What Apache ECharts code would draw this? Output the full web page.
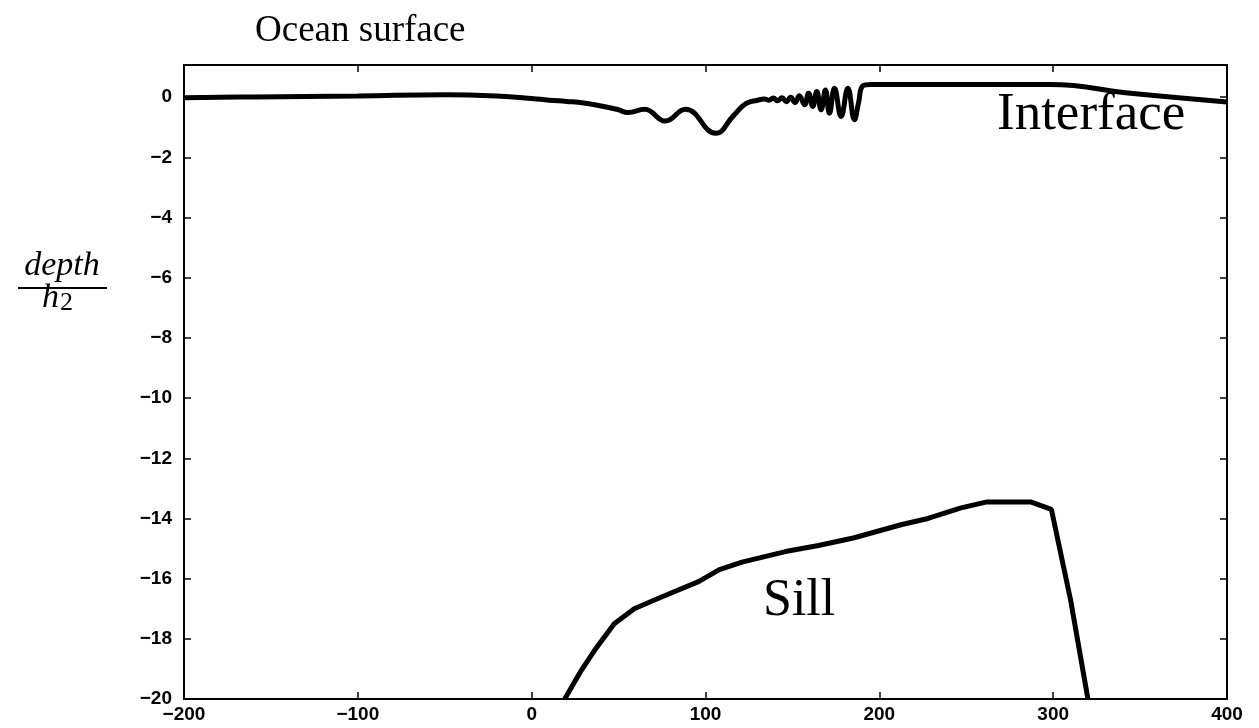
<!DOCTYPE html>
<html>
<head>
<meta charset="utf-8">
<script src="https://cdn.jsdelivr.net/npm/echarts@6/dist/echarts.min.js"></script>
<style>
  html, body { margin: 0; padding: 0; background: #fff; }
  #chart_show { width: 1259px; height: 728px; }
</style>
</head>
<body>
<div id="chart_show"></div>
<script>
// 界面 (interface) x / depth
var interfaceX = [-200, -160, -100, -50, -20, 0, 10, 20, 30, 40, 49.5, 55.4, 65, 76.8, 88.5, 105.9, 116, 123, 130,
    134, 136.5, 139, 141.5, 144, 146.5, 149, 151.5, 154, 157, 159.3, 161.7, 164, 166.5, 169, 171.3, 174.2, 178, 181.9, 185.7, 188, 190.6,
    195, 250, 298, 346, 400];
var interfaceY = [-0.02, 0.01, 0.04, 0.08, 0.04, -0.04, -0.1, -0.14, -0.19, -0.29, -0.41, -0.51, -0.4, -0.79, -0.4, -1.2, -0.62, -0.22, -0.1,
    -0.06, -0.1, -0.03, -0.12, -0.02, -0.15, 0.0, -0.18, 0.05, -0.25, 0.13, -0.31, 0.19, -0.42, 0.24, -0.53, 0.3, -0.64, 0.3, -0.75, -0.2, 0.38,
    0.42, 0.42, 0.42, 0.12, -0.16];

// 海槛 (sill)
var sillX = [19, 28, 36, 47.5, 59, 73, 96, 108, 121, 146, 165, 185, 213, 228, 247, 262, 287, 299, 310, 320];
var sillY = [-20, -19.1, -18.4, -17.5, -17.0, -16.65, -16.1, -15.7, -15.45, -15.1, -14.9, -14.65, -14.2, -14.0, -13.65, -13.45, -13.45, -13.7, -16.7, -20];

var xTicks = { min: -200, max: 400, step: 100 };
var yTicks = { min: -20, max: 1.07, step: 2 };

function pairs(xs, ys) {
    var out = [];
    for (var i = 0; i < xs.length; i++) {
        out.push([xs[i], ys[i]]);
    }
    return out;
}

function minusSign(v) {
    return String(v).replace('-', '\u2212');
}

var tickFont = { fontFamily: 'Liberation Sans', fontWeight: 'bold', fontSize: 19, color: '#000' };
var frameLine = { show: true, onZero: false, lineStyle: { color: '#000', width: 2 } };
var innerTick = { show: true, inside: true, length: 7, lineStyle: { color: '#000', width: 1.5 } };

var oChart = echarts.init(document.getElementById('chart_show'));
var chartopt = {
    animation: false,
    backgroundColor: '#fff',
    grid: { left: 184, right: 32, top: 65, bottom: 29 },
    xAxis: [{
        type: 'value',
        position: 'bottom',
        min: xTicks.min, max: xTicks.max, interval: xTicks.step,
        axisLine: frameLine,
        axisTick: innerTick,
        splitLine: { show: false },
        axisLabel: Object.assign({ margin: 6, formatter: minusSign }, tickFont)
    }, {
        type: 'value',
        position: 'top',
        min: xTicks.min, max: xTicks.max, interval: xTicks.step,
        axisLine: frameLine,
        axisTick: innerTick,
        splitLine: { show: false },
        axisLabel: { show: false }
    }],
    yAxis: [{
        type: 'value',
        position: 'left',
        min: yTicks.min, max: yTicks.max, interval: yTicks.step,
        axisLine: frameLine,
        axisTick: innerTick,
        splitLine: { show: false },
        axisLabel: Object.assign({ margin: 12, showMaxLabel: false, formatter: minusSign }, tickFont)
    }, {
        type: 'value',
        position: 'right',
        min: yTicks.min, max: yTicks.max, interval: yTicks.step,
        axisLine: frameLine,
        axisTick: innerTick,
        splitLine: { show: false },
        axisLabel: { show: false }
    }],
    series: [{
        name: 'Interface',
        type: 'line',
        smooth: 0.45,
        showSymbol: false,
        lineStyle: { color: '#000', width: 5 },
        data: pairs(interfaceX, interfaceY)
    }, {
        name: 'Sill',
        type: 'line',
        showSymbol: false,
        lineStyle: { color: '#000', width: 5 },
        data: pairs(sillX, sillY)
    }],
    graphic: [
        { type: 'text', style: { text: 'Ocean surface', x: 255, y: 31, verticalAlign: 'middle', font: '37px "Liberation Serif"', fill: '#000' } },
        { type: 'text', style: { text: 'Interface', x: 997, y: 115, verticalAlign: 'middle', font: '53px "Liberation Serif"', fill: '#000' } },
        { type: 'text', style: { text: 'Sill', x: 763, y: 601, verticalAlign: 'middle', font: '52px "Liberation Serif"', fill: '#000' } },
        { type: 'text', style: { text: 'depth', x: 62, y: 266, align: 'center', verticalAlign: 'middle', font: 'italic 34px "Liberation Serif"', fill: '#000' } },
        { type: 'line', shape: { x1: 18, y1: 288, x2: 107, y2: 288 }, style: { stroke: '#000', lineWidth: 2 } },
        { type: 'text', style: { text: 'h', x: 42, y: 298, verticalAlign: 'middle', font: 'italic 34px "Liberation Serif"', fill: '#000' } },
        { type: 'text', style: { text: '2', x: 60, y: 303, verticalAlign: 'middle', font: '26px "Liberation Serif"', fill: '#000' } }
    ]
};
oChart.setOption(chartopt);
</script>
</body>
</html>
